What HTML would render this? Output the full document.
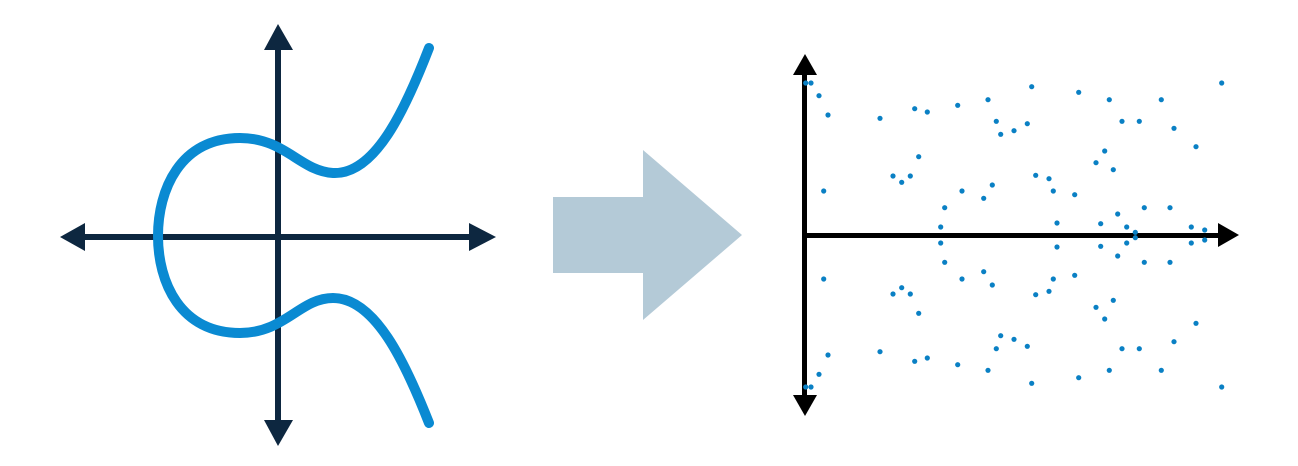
<!DOCTYPE html>
<html><head><style>html,body{margin:0;padding:0;background:#fff;width:1298px;height:466px;overflow:hidden}</style></head>
<body>
<svg width="1298" height="466" viewBox="0 0 1298 466" xmlns="http://www.w3.org/2000/svg">
<g fill="#0d2740">
<rect x="275" y="40" width="6" height="390"/>
<rect x="75" y="234" width="405" height="6"/>
<polygon points="278,24 264,50 293,50"/>
<polygon points="278,446 264,420 293,420"/>
<polygon points="60,237 85,223 85,251"/>
<polygon points="496,237 469,223 469,251"/>
</g>
<path d="M429,48 C405,110 375,175 333,173 C300,171 285,138 240,138 C180,138 158,190 158,236 C158,282 180,333 240,333 C285,333 300,298 333,298 C375,298 405,362 429,423" fill="none" stroke="#0a8ad2" stroke-width="10" stroke-linecap="round"/>
<polygon points="553,197 643,197 643,150 742,235 643,320 643,273 553,273" fill="#b4cad7"/>
<g fill="#000">
<rect x="802" y="70" width="5" height="330"/>
<rect x="802" y="233" width="420" height="5"/>
<polygon points="805,54 793,75 817,75"/>
<polygon points="805,416 793,395 817,395"/>
<polygon points="1239,235 1218,223 1218,247"/>
</g>
<g fill="#0a80c4">
<circle cx="805.7" cy="83" r="2.6"/><circle cx="805.7" cy="387" r="2.6"/>
<circle cx="811" cy="83" r="2.6"/><circle cx="811" cy="387" r="2.6"/>
<circle cx="819" cy="95.7" r="2.6"/><circle cx="819" cy="374.3" r="2.6"/>
<circle cx="828" cy="115" r="2.6"/><circle cx="828" cy="355" r="2.6"/>
<circle cx="880" cy="118.3" r="2.6"/><circle cx="880" cy="351.7" r="2.6"/>
<circle cx="914.7" cy="108.7" r="2.6"/><circle cx="914.7" cy="361.3" r="2.6"/>
<circle cx="927.3" cy="112" r="2.6"/><circle cx="927.3" cy="358" r="2.6"/>
<circle cx="957.7" cy="105.3" r="2.6"/><circle cx="957.7" cy="364.7" r="2.6"/>
<circle cx="988" cy="99.7" r="2.6"/><circle cx="988" cy="370.3" r="2.6"/>
<circle cx="1031.7" cy="86.7" r="2.6"/><circle cx="1031.7" cy="383.3" r="2.6"/>
<circle cx="1078.7" cy="92.3" r="2.6"/><circle cx="1078.7" cy="377.7" r="2.6"/>
<circle cx="1109.3" cy="99.7" r="2.6"/><circle cx="1109.3" cy="370.3" r="2.6"/>
<circle cx="1161.3" cy="99.7" r="2.6"/><circle cx="1161.3" cy="370.3" r="2.6"/>
<circle cx="1221.7" cy="83" r="2.6"/><circle cx="1221.7" cy="387" r="2.6"/>
<circle cx="996.3" cy="121.3" r="2.6"/><circle cx="996.3" cy="348.7" r="2.6"/>
<circle cx="1000.7" cy="134.3" r="2.6"/><circle cx="1000.7" cy="335.7" r="2.6"/>
<circle cx="1014" cy="130.7" r="2.6"/><circle cx="1014" cy="339.3" r="2.6"/>
<circle cx="1027.3" cy="123.7" r="2.6"/><circle cx="1027.3" cy="346.3" r="2.6"/>
<circle cx="1122" cy="121.3" r="2.6"/><circle cx="1122" cy="348.7" r="2.6"/>
<circle cx="1139.3" cy="121.3" r="2.6"/><circle cx="1139.3" cy="348.7" r="2.6"/>
<circle cx="1174" cy="128.3" r="2.6"/><circle cx="1174" cy="341.7" r="2.6"/>
<circle cx="1196" cy="146.7" r="2.6"/><circle cx="1196" cy="323.3" r="2.6"/>
<circle cx="1104.7" cy="151" r="2.6"/><circle cx="1104.7" cy="319" r="2.6"/>
<circle cx="1096" cy="162.7" r="2.6"/><circle cx="1096" cy="307.3" r="2.6"/>
<circle cx="1113.3" cy="169.7" r="2.6"/><circle cx="1113.3" cy="300.3" r="2.6"/>
<circle cx="918.7" cy="156.7" r="2.6"/><circle cx="918.7" cy="313.3" r="2.6"/>
<circle cx="893" cy="176" r="2.6"/><circle cx="893" cy="294" r="2.6"/>
<circle cx="901.7" cy="182.3" r="2.6"/><circle cx="901.7" cy="287.7" r="2.6"/>
<circle cx="910.3" cy="176" r="2.6"/><circle cx="910.3" cy="294" r="2.6"/>
<circle cx="823.7" cy="191" r="2.6"/><circle cx="823.7" cy="279" r="2.6"/>
<circle cx="1035.7" cy="175.3" r="2.6"/><circle cx="1035.7" cy="294.7" r="2.6"/>
<circle cx="1049" cy="178.7" r="2.6"/><circle cx="1049" cy="291.3" r="2.6"/>
<circle cx="1053.3" cy="191" r="2.6"/><circle cx="1053.3" cy="279" r="2.6"/>
<circle cx="1074.7" cy="194.7" r="2.6"/><circle cx="1074.7" cy="275.3" r="2.6"/>
<circle cx="992.3" cy="185" r="2.6"/><circle cx="992.3" cy="285" r="2.6"/>
<circle cx="962" cy="191" r="2.6"/><circle cx="962" cy="279" r="2.6"/>
<circle cx="983.7" cy="198.3" r="2.6"/><circle cx="983.7" cy="271.7" r="2.6"/>
<circle cx="944.7" cy="207.7" r="2.6"/><circle cx="944.7" cy="262.3" r="2.6"/>
<circle cx="940.7" cy="227" r="2.6"/><circle cx="940.7" cy="243" r="2.6"/>
<circle cx="1057" cy="223" r="2.6"/><circle cx="1057" cy="247" r="2.6"/>
<circle cx="1100.7" cy="223.7" r="2.6"/><circle cx="1100.7" cy="246.3" r="2.6"/>
<circle cx="1117.7" cy="214" r="2.6"/><circle cx="1117.7" cy="256" r="2.6"/>
<circle cx="1126.7" cy="227" r="2.6"/><circle cx="1126.7" cy="243" r="2.6"/>
<circle cx="1135.3" cy="232.3" r="2.6"/><circle cx="1135.3" cy="237.7" r="2.6"/>
<circle cx="1144.3" cy="207.7" r="2.6"/><circle cx="1144.3" cy="262.3" r="2.6"/>
<circle cx="1170" cy="207.7" r="2.6"/><circle cx="1170" cy="262.3" r="2.6"/>
<circle cx="1191.3" cy="227" r="2.6"/><circle cx="1191.3" cy="243" r="2.6"/>
<circle cx="1204.7" cy="230" r="2.6"/><circle cx="1204.7" cy="240" r="2.6"/>
</g>
</svg>
</body></html>
